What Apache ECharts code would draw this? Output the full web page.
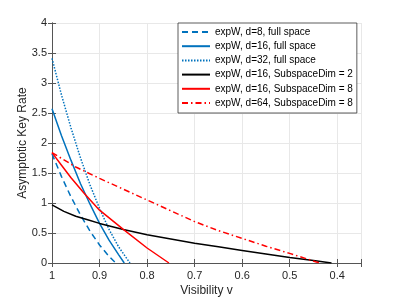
<!DOCTYPE html>
<html><head><meta charset="utf-8">
<script src="https://cdn.jsdelivr.net/npm/echarts@6/dist/echarts.min.js"></script>
<style>html,body{margin:0;padding:0;background:#fff}#c{width:399px;height:299px}</style>
</head><body><div id="c"></div>
<script>
// Visibility values (v) and key rates per curve
const names = [
  'expW, d=8, full space',
  'expW, d=16, full space',
  'expW, d=32, full space',
  'expW, d=16, SubspaceDim = 2',
  'expW, d=16, SubspaceDim = 8',
  'expW, d=64, SubspaceDim = 8'
];
const vD8  = [1, 0.98, 0.96, 0.94, 0.92, 0.9, 0.88, 0.866];
const yD8  = [1.82, 1.44, 1.10, 0.80, 0.53, 0.30, 0.11, 0];
const vD16 = [1, 0.98, 0.96, 0.94, 0.92, 0.9, 0.88, 0.86, 0.848];
const yD16 = [2.57, 2.12, 1.71, 1.32, 0.98, 0.66, 0.38, 0.14, 0];
const vD32 = [1, 0.98, 0.96, 0.94, 0.92, 0.9, 0.88, 0.86, 0.836];
const yD32 = [3.41, 2.80, 2.25, 1.75, 1.30, 0.91, 0.56, 0.27, 0];
const vS2  = [1, 0.975, 0.95, 0.925, 0.9, 0.85, 0.8, 0.75, 0.7, 0.65, 0.6, 0.55, 0.5, 0.45, 0.412];
const yS2  = [0.97, 0.86, 0.78, 0.72, 0.66, 0.56, 0.47, 0.40, 0.33, 0.27, 0.21, 0.15, 0.09, 0.04, 0];
const vS8  = [1, 0.98, 0.96, 0.932, 0.9, 0.85, 0.8, 0.754];
const yS8  = [1.84, 1.63, 1.42, 1.16, 0.88, 0.56, 0.25, 0];
const vS64 = [1, 0.95, 0.9, 0.85, 0.8, 0.75, 0.7, 0.65, 0.6, 0.55, 0.5, 0.437];
const yS64 = [1.84, 1.60, 1.41, 1.23, 1.05, 0.87, 0.69, 0.54, 0.41, 0.28, 0.16, 0];
const xTickLabels = ['1', '0.9', '0.8', '0.7', '0.6', '0.5', '0.4'];

// axis coordinate: distance from v=1 (axis runs 1 -> 0.35 left to right)
function pts(vs, ys) { return vs.map((v, i) => [1 - v, ys[i]]); }

const blue = '#0072BD', red = '#FF0000', black = '#000000';
const styles = [
  {color: blue, type: [6, 4]},
  {color: blue, type: 'solid'},
  {color: blue, type: [1.5, 1.5]},
  {color: black, type: 'solid'},
  {color: red, type: 'solid'},
  {color: red, type: [6, 3, 1.5, 3]}
];
const datasets = [pts(vD8, yD8), pts(vD16, yD16), pts(vD32, yD32), pts(vS2, yS2), pts(vS8, yS8), pts(vS64, yS64)];

const font = 'Liberation Sans, Arial, Helvetica, sans-serif';
const axCol = '#555555';
const txtCol = '#262626';
const gridCol = '#e8e8e8';

const chart = echarts.init(document.getElementById('c'), null, {renderer: 'canvas'});
chart.setOption({
  animation: false,
  backgroundColor: '#fff',
  grid: {left: 52, right: 38, top: 23, bottom: 36, outerBoundsMode: 'none', containLabel: false},
  legend: {
    left: 178, top: 23, orient: 'vertical',
    data: names,
    itemWidth: 28, itemHeight: 12, itemGap: 2.2,
    padding: [3, 4, 4, 3],
    itemStyle: {opacity: 0},
    backgroundColor: '#fff', borderColor: '#333', borderWidth: 0.8,
    textStyle: {fontFamily: font, fontSize: 10, color: '#000', lineHeight: 12}
  },
  xAxis: [{
    type: 'value', min: 0, max: 0.65, interval: 0.1,
    name: 'Visibility v', nameLocation: 'middle', nameGap: 22, nameMoveOverlap: false,
    nameTextStyle: {fontFamily: font, fontSize: 12, color: txtCol},
    axisLine: {show: true, lineStyle: {color: axCol, width: 1}},
    axisTick: {show: true, inside: true, length: 4, lineStyle: {color: axCol}},
    axisLabel: {fontFamily: font, fontSize: 11, color: txtCol, margin: 7,
      formatter: function (val) { const k = Math.round(val * 10); if (Math.abs(val * 10 - k) > 1e-6 || k > 6) return ''; return xTickLabels[k]; }},
    splitLine: {show: true, lineStyle: {color: gridCol, width: 1}}
  }, {
    type: 'value', min: 0, max: 0.65, interval: 0.1, position: 'top',
    axisLine: {show: true, lineStyle: {color: axCol, width: 1}},
    axisTick: {show: true, inside: true, length: 4, lineStyle: {color: axCol}},
    axisLabel: {show: false}, splitLine: {show: false}
  }],
  yAxis: [{
    type: 'value', min: 0, max: 4, interval: 0.5,
    name: 'Asymptotic Key Rate', nameLocation: 'middle', nameGap: 23, nameMoveOverlap: false,
    nameTextStyle: {fontFamily: font, fontSize: 12, color: txtCol},
    axisLine: {show: true, lineStyle: {color: axCol, width: 1}},
    axisTick: {show: true, inside: true, length: 4, lineStyle: {color: axCol}},
    axisLabel: {fontFamily: font, fontSize: 11, color: txtCol, margin: 5},
    splitLine: {show: true, lineStyle: {color: gridCol, width: 1}}
  }, {
    type: 'value', min: 0, max: 4, interval: 0.5, position: 'right',
    axisLine: {show: true, lineStyle: {color: axCol, width: 1}},
    axisTick: {show: true, inside: true, length: 4, lineStyle: {color: axCol}},
    axisLabel: {show: false}, splitLine: {show: false}
  }],
  series: names.map((n, i) => ({
    name: n, type: 'line', data: datasets[i],
    xAxisIndex: 0, yAxisIndex: 0,
    symbol: 'none', smooth: false,
    color: styles[i].color,
    lineStyle: {color: styles[i].color, width: 1.5, type: styles[i].type},
    z: 3
  }))
});
</script></body></html>
